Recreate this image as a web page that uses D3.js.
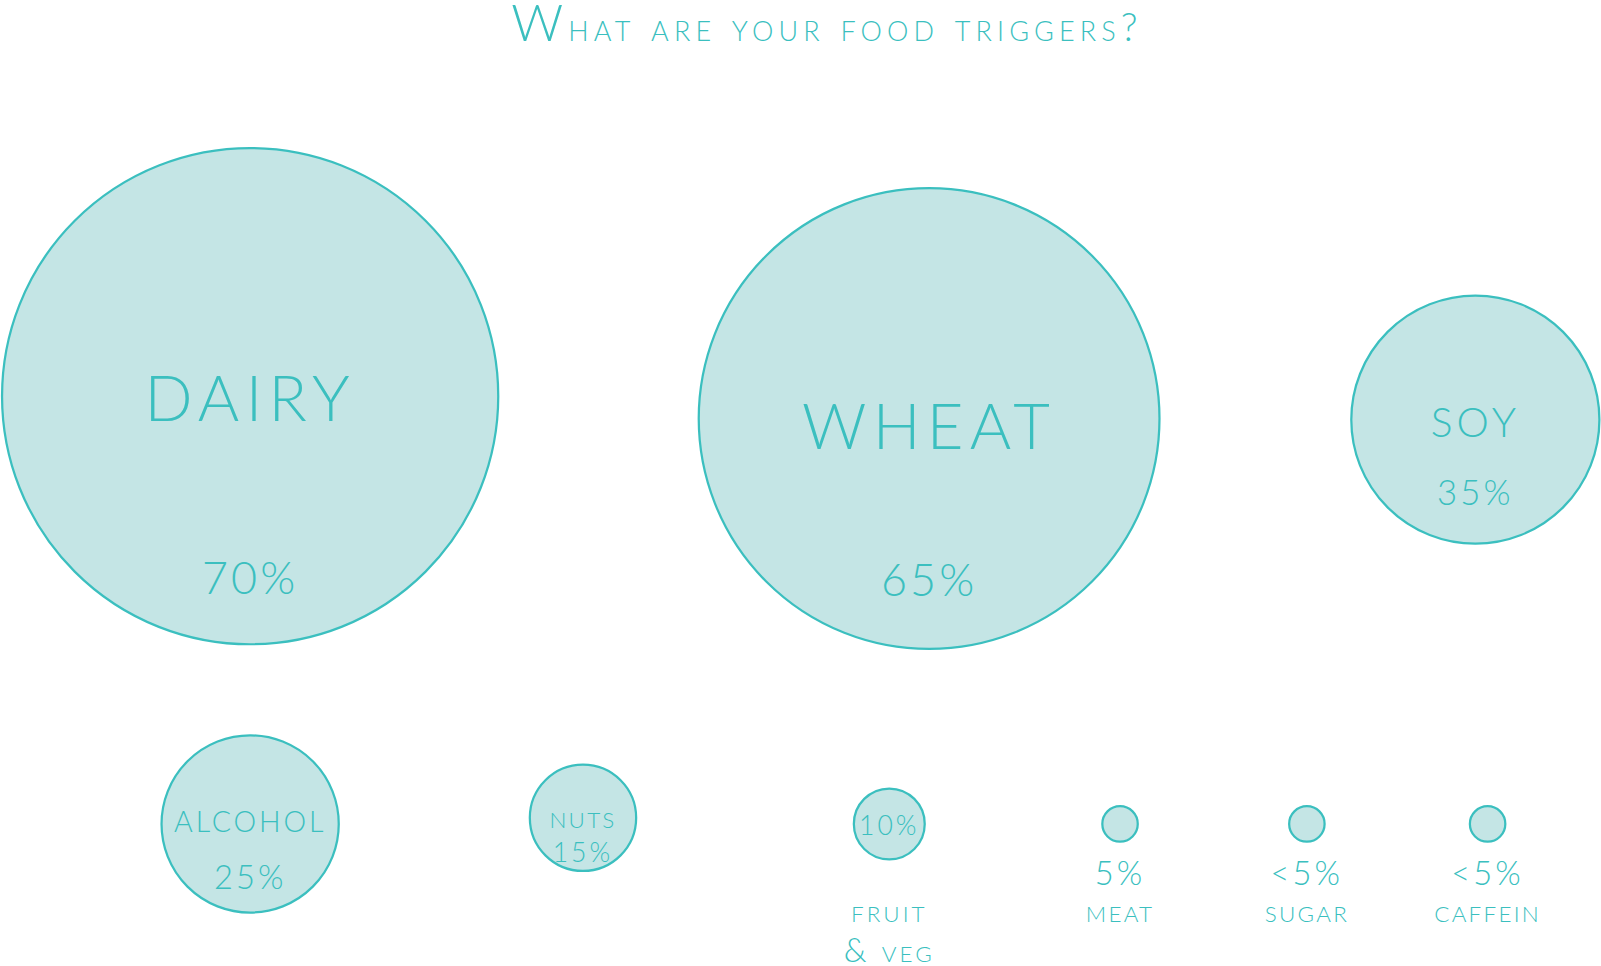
<!DOCTYPE html>
<html><head><meta charset="utf-8">
<script src="https://cdn.jsdelivr.net/npm/d3@7"></script>
<style>body{margin:0;background:#fff}text{font-family:Lato,"Open Sans",sans-serif;font-weight:300;fill:#3bbfbf}</style>
</head><body>
<svg id="c" width="1601" height="966"></svg>
<script>
const categories = ["DAIRY","WHEAT","SOY","ALCOHOL","NUTS","FRUIT & VEG","MEAT","SUGAR","CAFFEIN"];
const values = [70,65,35,25,15,10,5,5,5];
const valueLabels = ["70%","65%","35%","25%","15%","10%","5%","<5%","<5%"];

// layout (presentation only)
const layout = [
  {x:245,y:388,name:{dy:24,s:62},pct:{dy:194,s:44}},
  {x:910,y:410,name:{dy:30,s:62},pct:{dy:174,s:44}},
  {x:1445,y:411,name:{dy:17,s:40},pct:{dy:84,s:34}},
  {x:245,y:807,name:{dy:8,s:28},pct:{dy:64,s:32}},
  {x:571,y:801,name:{dy:10,s:22},pct:{dy:43,s:26}},
  {x:871,y:807,name:{dy:96,s:22,two:true},pct:{dy:11,s:26}},
  {x:1097,y:807,name:{dy:96,s:22},pct:{dy:60,s:32}},
  {x:1280,y:807,name:{dy:96,s:22},pct:{dy:60,s:32}},
  {x:1457,y:807,name:{dy:96,s:22},pct:{dy:60,s:32}}
];
const svg = d3.select("#c").append("g").attr("transform","scale(1.021)");
const r = d3.scaleLinear().domain([0,70]).range([0,243]);

const t = svg.append("text").attr("x",810).attr("y",40).attr("text-anchor","middle").style("letter-spacing","5px");
t.append("tspan").attr("font-size",50).text("W");
t.append("tspan").attr("font-size",38).style("font-variant","small-caps").text("hat are your food triggers?");

const g = svg.selectAll("g.b").data(categories).join("g").attr("class","b")
  .attr("transform",(d,i)=>`translate(${layout[i].x},${layout[i].y})`);
g.append("circle").attr("r",(d,i)=>r(values[i])).attr("fill","#c4e5e5").attr("stroke","#3bbfbf").attr("stroke-width",2.2);
g.each(function(d,i){
  const L = layout[i], s = d3.select(this);
  if (L.name.two) {
    s.append("text").attr("text-anchor","middle").attr("y",L.name.dy).attr("font-size",L.name.s).style("letter-spacing","3px").text("FRUIT");
    const tt = s.append("text").attr("text-anchor","middle").attr("y",L.name.dy+39).style("letter-spacing","3px");
    tt.append("tspan").attr("font-size",32).text("& ");
    tt.append("tspan").attr("font-size",L.name.s).text("VEG");
  } else {
    s.append("text").attr("text-anchor","middle").attr("y",L.name.dy).attr("font-size",L.name.s).style("letter-spacing",(L.name.s/10)+"px").text(d);
  }
  s.append("text").attr("text-anchor","middle").attr("y",L.pct.dy).attr("font-size",L.pct.s).style("letter-spacing","3px").text(valueLabels[i]);
});
</script></body></html>
